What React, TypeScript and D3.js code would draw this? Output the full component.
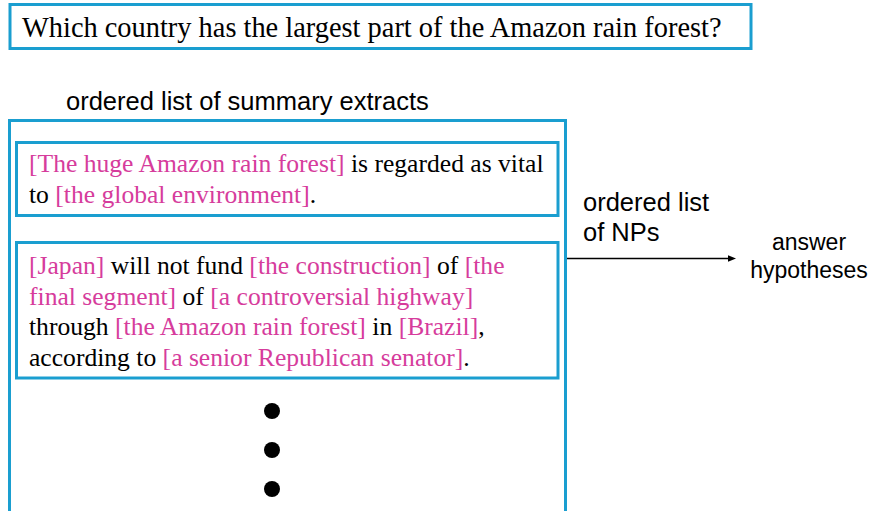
import React from 'react';
import * as d3 from 'd3';

// question and labels
const question = 'Which country has the largest part of the Amazon rain forest?';
const listTitle = 'ordered list of summary extracts';
const npLabel = ['ordered list', 'of NPs'];
const answerLabel = ['answer', 'hypotheses'];

// each extract: lines of [text, isNP]
const extract1 = [
  [['[The huge Amazon rain forest]', true], [' is regarded as vital', false]],
  [['to ', false], ['[the global environment]', true], ['.', false]],
];
const extract2 = [
  [['[Japan]', true], [' will not fund ', false], ['[the construction]', true], [' of ', false], ['[the', true]],
  [['final segment]', true], [' of ', false], ['[a controversial highway]', true]],
  [['through ', false], ['[the Amazon rain forest]', true], [' in ', false], ['[Brazil]', true], [',', false]],
  [['according to ', false], ['[a senior Republican senator]', true], ['.', false]],
];
const moreDots = [0, 1, 2];

const BLUE = '#1a9ed0';
const PINK = '#d63c9c';
const SERIF = '"Liberation Serif", "Times New Roman", serif';
const SANS = '"Liberation Sans", Arial, sans-serif';

function Extract({ lines, x, y, lineH }) {
  return (
    <text fontFamily={SERIF} fontSize={25.6} style={{ whiteSpace: 'pre' }}>
      {lines.map((line, i) => (
        <tspan key={i} x={x} y={y + i * lineH}>
          {line.map((seg, j) => (
            <tspan key={j} fill={seg[1] ? PINK : '#000'}>{seg[0]}</tspan>
          ))}
        </tspan>
      ))}
    </text>
  );
}

export default function App() {
  const width = 892;
  const height = 511;
  const dotY = d3.scalePoint().domain(moreDots).range([411, 489]);
  const arrow = d3.line()([[567, 258.5], [728, 258.5]]);

  return (
    <svg width={width} height={height} style={{ position: 'absolute', left: 0, top: 0, background: '#fff' }}>
      <defs>
        <marker id="ah" viewBox="0 0 10 10" refX="0" refY="5" markerWidth="8" markerHeight="8" markerUnits="userSpaceOnUse" orient="auto">
          <path d="M0,1 L10,5 L0,9 z" fill="#000" />
        </marker>
      </defs>

      {/* question */}
      <rect x={10} y={4.5} width={741} height={44} fill="none" stroke={BLUE} strokeWidth={3} />
      <text x={22} y={37} fontFamily={SERIF} fontSize={28.4}>{question}</text>

      {/* summary list */}
      <text x={66} y={110} fontFamily={SANS} fontSize={25.5}>{listTitle}</text>
      <rect x={9.5} y={120.5} width={556} height={420} fill="none" stroke={BLUE} strokeWidth={3} />
      <rect x={16.5} y={142.5} width={541.5} height={73} fill="none" stroke={BLUE} strokeWidth={3} />
      <Extract lines={extract1} x={29} y={172} lineH={31} />
      <rect x={16.5} y={242.5} width={541.5} height={135.5} fill="none" stroke={BLUE} strokeWidth={3} />
      <Extract lines={extract2} x={29} y={274} lineH={30.5} />
      {moreDots.map((d) => (
        <circle key={d} cx={272} cy={dotY(d)} r={8} fill="#000" />
      ))}

      {/* arrow to answers */}
      <text fontFamily={SANS} fontSize={25.5}>
        {npLabel.map((t, i) => (
          <tspan key={i} x={583} y={211 + i * 30}>{t}</tspan>
        ))}
      </text>
      <path d={arrow} stroke="#000" strokeWidth={1.3} markerEnd="url(#ah)" />
      <text fontFamily={SANS} fontSize={23} textAnchor="middle">
        {answerLabel.map((t, i) => (
          <tspan key={i} x={809} y={250 + i * 28}>{t}</tspan>
        ))}
      </text>
    </svg>
  );
}
